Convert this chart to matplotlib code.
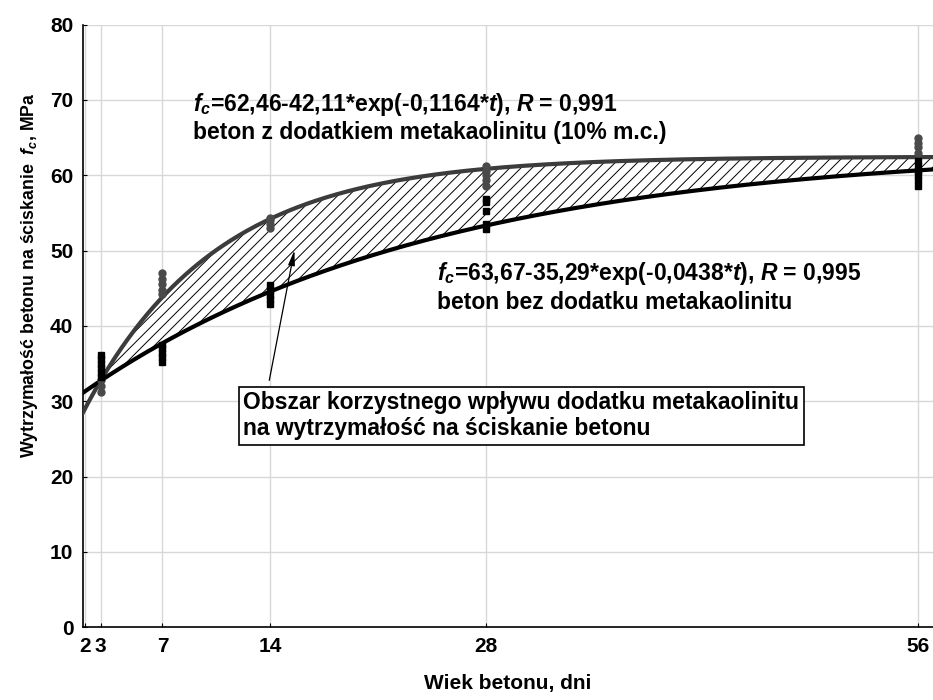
import numpy as np
import matplotlib.pyplot as plt

# fitted model coefficients: fc = a - b*exp(-k*t)
fit_mk = (62.46, 42.11, 0.1164)   # beton z dodatkiem metakaolinitu
fit_ref = (63.67, 35.29, 0.0438)  # beton bez dodatku

# measured points (with metakaolinite, grey dots)
t_mk = [3, 3, 3, 7, 7, 7, 7, 7, 14, 14, 14, 14, 28, 28, 28, 28, 28, 56, 56, 56, 56]
fc_mk = [31.2, 32.0, 32.8, 44.2, 44.8, 45.5, 46.2, 47.0, 53.0, 53.5, 54.0, 54.3,
         58.5, 59.3, 60.0, 60.6, 61.2, 62.9, 63.7, 64.3, 65.0]
# measured points (reference concrete, black squares)
t_ref = [3, 3, 3, 3, 3, 3, 7, 7, 7, 7, 7, 14, 14, 14, 14, 14, 28, 28, 28, 28, 28,
         56, 56, 56, 56, 56, 56]
fc_ref = [33.2, 33.8, 34.4, 35.0, 35.6, 36.1, 35.2, 35.8, 36.4, 37.0, 37.4,
          42.9, 43.5, 44.1, 44.7, 45.4, 52.9, 53.5, 55.3, 56.4, 56.9,
          58.6, 59.3, 60.0, 60.6, 61.2, 61.9]

xticks = [2, 3, 7, 14, 28, 56]
yticks = [0, 10, 20, 30, 40, 50, 60, 70, 80]

plt.rcParams['mathtext.fontset'] = 'custom'
plt.rcParams['mathtext.rm'] = 'Liberation Sans:bold'
plt.rcParams['mathtext.it'] = 'Liberation Sans:italic:bold'
plt.rcParams['mathtext.bf'] = 'Liberation Sans:bold'
plt.rcParams['hatch.linewidth'] = 0.7

fig = plt.figure(figsize=(9.33, 7), dpi=100)
ax = fig.add_axes([0.089, 0.104, 0.911, 0.861])

t = np.linspace(1.85, 57, 400)
y_mk = fit_mk[0] - fit_mk[1] * np.exp(-fit_mk[2] * t)
y_ref = fit_ref[0] - fit_ref[1] * np.exp(-fit_ref[2] * t)

ax.fill_between(t, y_ref, y_mk, where=y_mk >= y_ref, facecolor='white',
                edgecolor='black', hatch='///', linewidth=0, interpolate=True, zorder=2)
ax.plot(t, y_mk, color='#3c3c3c', lw=3, zorder=3)
ax.plot(t, y_ref, color='black', lw=3, zorder=3)

ax.plot(t_mk, fc_mk, 'o', color='#4a4a4a', ms=5, mec='#4a4a4a', zorder=4)
ax.plot(t_ref, fc_ref, 's', color='black', ms=4.5, zorder=4)

ax.set_xlim(1.85, 57)
ax.set_ylim(0, 80)
ax.set_xticks(xticks)
ax.set_yticks(yticks)
ax.grid(True, color='#d8d8d8', lw=1, zorder=0)
ax.set_axisbelow(True)
for s in ['top', 'right']:
    ax.spines[s].set_visible(False)
ax.spines['left'].set_linewidth(1.2)
ax.spines['bottom'].set_linewidth(1.2)
ax.tick_params(direction='in', length=3, pad=7)
for lab in ax.get_xticklabels() + ax.get_yticklabels():
    lab.set_fontfamily('Liberation Sans')
    lab.set_fontweight('bold')
    lab.set_fontsize(15)

fig.text(0.5446, 0.024, 'Wiek betonu, dni', ha='center', va='center',
         family='Liberation Sans', weight='bold', fontsize=15)
fig.text(0.032, 0.607, r'Wytrzymałość betonu na ściskanie  $f_c$, MPa', rotation=90,
         ha='center', va='center', family='Liberation Sans',
         weight='bold', fontsize=12.8)

ax.text(9.0, 71.2, r'$f_c$=62,46-42,11*exp(-0,1164*$t$), $R$ = 0,991' + '\n'
        'beton z dodatkiem metakaolinitu (10% m.c.)',
        family='Liberation Sans', weight='bold', fontsize=16.5, va='top', ha='left',
        linespacing=1.2, zorder=5)
ax.text(24.8, 48.7, r'$f_c$=63,67-35,29*exp(-0,0438*$t$), $R$ = 0,995' + '\n'
        'beton bez dodatku metakaolinitu',
        family='Liberation Sans', weight='bold', fontsize=16.5, va='top', ha='left',
        linespacing=1.2, zorder=5)

ax.annotate('', xy=(15.6, 50.4), xytext=(13.9, 32.4),
            arrowprops=dict(arrowstyle='-|>,head_width=0.2,head_length=0.9',
                            color='black', lw=0.9), zorder=5)
ax.text(12.25, 31.3, 'Obszar korzystnego wpływu dodatku metakaolinitu\n'
        'na wytrzymałość na ściskanie betonu',
        family='Liberation Sans', weight='bold', fontsize=16.5, va='top', ha='left',
        linespacing=1.15, zorder=6,
        bbox=dict(boxstyle='square,pad=0.2', fc='white', ec='black', lw=1.2))

fig.savefig('out.png', dpi=100)
